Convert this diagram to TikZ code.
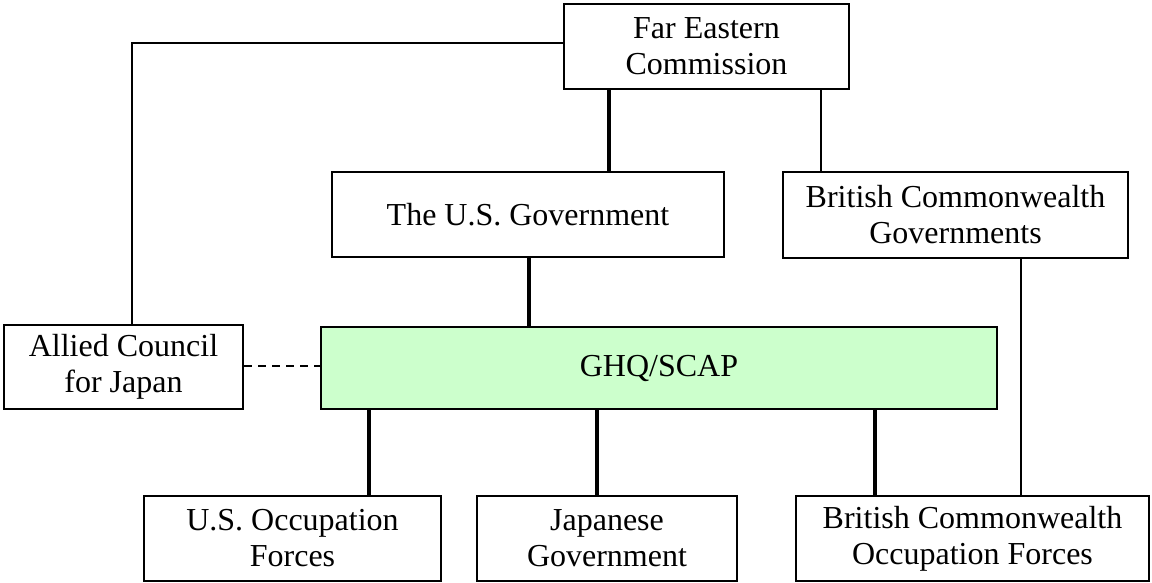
\documentclass[tikz,border=0pt]{standalone}
\usepackage{fontspec}
\setmainfont{Liberation Serif}
\usetikzlibrary{calc}
\definecolor{ghqgreen}{HTML}{CCFFCC}
\begin{document}
\begin{tikzpicture}[x=1pt,y=-1pt,
  orgbox/.style={draw=black, line width=2pt, fill=white, inner sep=0pt, align=center,
    font=\fontsize{32}{36}\selectfont},
  thinline/.style={line width=2pt},
  thickline/.style={line width=4.5pt},
  dashline/.style={line width=2pt, dash pattern=on 8pt off 6pt}]
\useasboundingbox (0,0) rectangle (1152,582);
\node[orgbox, minimum width=285pt, minimum height=85pt] (fec) at (706.5,46.5) {Far Eastern\\Commission};
\node[orgbox, minimum width=392pt, minimum height=85pt] (usgov) at (528,214.5) {The U.S. Government};
\node[orgbox, minimum width=345pt, minimum height=86pt] (bcg) at (955.5,215) {British Commonwealth\\Governments};
\node[orgbox, minimum width=239pt, minimum height=84pt] (acj) at (123.5,367) {Allied Council\\for Japan};
\node[orgbox, fill=ghqgreen, minimum width=676pt, minimum height=82pt] (ghq) at (659,368) {GHQ/SCAP};
\node[orgbox, minimum width=297pt, minimum height=85pt] (usocc) at (292.5,538.5) {U.S. Occupation\\Forces};
\node[orgbox, minimum width=260pt, minimum height=85pt] (jpgov) at (607,538.5) {Japanese\\Government};
\node[orgbox, minimum width=353pt, minimum height=85pt] (bcof) at (972.5,538.5) {British Commonwealth\\Occupation Forces};
% helper x positions
\coordinate (xa) at (132,43);
\coordinate (xb) at (609,0);
\coordinate (xc) at (821,0);
\coordinate (xd) at (529,0);
\coordinate (xe) at (369,0);
\coordinate (xf) at (597,0);
\coordinate (xg) at (875,0);
\coordinate (xh) at (1021,0);
\coordinate (ya) at (0,366);
% connectors
\draw[thinline] (fec.west |- xa) -| (acj.north -| xa);
\draw[thickline] (fec.south -| xb) -- (usgov.north -| xb);
\draw[thinline] (fec.south -| xc) -- (bcg.north -| xc);
\draw[thickline] (usgov.south -| xd) -- (ghq.north -| xd);
\draw[dashline] (acj.east |- ya) -- (ghq.west |- ya);
\draw[thickline] (ghq.south -| xe) -- (usocc.north -| xe);
\draw[thickline] (ghq.south -| xf) -- (jpgov.north -| xf);
\draw[thickline] (ghq.south -| xg) -- (bcof.north -| xg);
\draw[thinline] (bcg.south -| xh) -- (bcof.north -| xh);
\end{tikzpicture}
\end{document}
